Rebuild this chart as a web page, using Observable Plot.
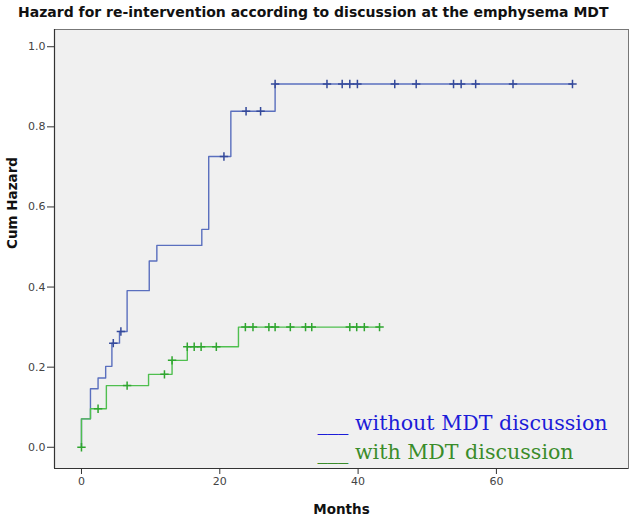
<!DOCTYPE html>
<html>
<head>
<meta charset="utf-8">
<script src="https://cdn.jsdelivr.net/npm/d3@7"></script>
<script src="https://cdn.jsdelivr.net/npm/@observablehq/plot@0.6"></script>
<style>
  html, body { margin: 0; padding: 0; background: #fff; }
  #wrap { position: relative; width: 636px; height: 518px; }
  #title { position: absolute; z-index: 2; left: 18px; top: 4px; font-family: "DejaVu Sans", sans-serif; font-weight: bold; font-size: 14px; color: #111; white-space: nowrap; }
</style>
</head>
<body>
<div id="wrap">
  <div id="title">Hazard for re-intervention according to discussion at the emphysema MDT</div>
</div>
<script>
// Step points of the cumulative hazard curves (months, cum hazard)
const blueTimes = [0, 0, 1.3, 2.4, 3.5, 4.4, 5.5, 6.6, 9.8, 10.9, 17.4, 18.4, 21.6, 28.0, 71.0];
const blueHaz   = [0, 0.071, 0.146, 0.173, 0.202, 0.26, 0.289, 0.391, 0.465, 0.504, 0.544, 0.726, 0.839, 0.907, 0.907];
const greenTimes = [0, 0, 1.3, 3.6, 9.7, 13.1, 15.3, 22.7, 43.1];
const greenHaz   = [0, 0.071, 0.096, 0.154, 0.182, 0.217, 0.251, 0.30, 0.30];

// Censored observations
const blueCensT = [4.6, 5.7, 20.6, 23.8, 25.9, 28.0, 35.5, 37.7, 38.8, 39.9, 45.3, 48.4, 53.8, 54.9, 57.0, 62.4, 71.0];
const blueCensH = [0.26, 0.289, 0.726, 0.839, 0.839, 0.907, 0.907, 0.907, 0.907, 0.907, 0.907, 0.907, 0.907, 0.907, 0.907, 0.907, 0.907];
const greenCensT = [0, 2.4, 6.6, 12.0, 13.1, 15.3, 16.3, 17.3, 19.5, 23.7, 24.8, 27.1, 28.0, 30.2, 32.4, 33.3, 38.8, 39.8, 40.9, 43.1];
const greenCensH = [0, 0.096, 0.154, 0.182, 0.217, 0.251, 0.251, 0.251, 0.251, 0.30, 0.30, 0.30, 0.30, 0.30, 0.30, 0.30, 0.30, 0.30, 0.30, 0.30];

const xTicks = [0, 20, 40, 60];
const yTicks = [0, 0.2, 0.4, 0.6, 0.8, 1.0];
const legendLabels = ["___ without MDT discussion", "___ with MDT discussion"];

const blue = blueTimes.map((t, i) => ({t, h: blueHaz[i]}));
const green = greenTimes.map((t, i) => ({t, h: greenHaz[i]}));
const blueC = blueCensT.map((t, i) => ({t, h: blueCensH[i]}));
const greenC = greenCensT.map((t, i) => ({t, h: greenCensH[i]}));

const plus = {
  draw(ctx, size) {
    const r = Math.sqrt(size / Math.PI);
    ctx.moveTo(-r, 0); ctx.lineTo(r, 0);
    ctx.moveTo(0, -r); ctx.lineTo(0, r);
  }
};

const chart = Plot.plot({
  width: 636,
  height: 518,
  marginLeft: 54,
  marginRight: 8,
  marginTop: 29,
  marginBottom: 50,
  style: { fontFamily: "DejaVu Sans, sans-serif", fontSize: "11px", color: "#444", background: "#fff" },
  x: { domain: [-3.9, 79.1], ticks: xTicks, tickSize: 6, tickPadding: 3, label: null },
  y: { domain: [-0.053, 1.043], ticks: yTicks, tickFormat: d3.format(".1f"), tickSize: 7, tickPadding: 2, label: null },
  marks: [
    Plot.frame({ fill: "#f0f0f0", stroke: "#777" }),
    Plot.axisX({ ticks: xTicks, tickSize: 6, tickPadding: 3, label: null, stroke: "#333" }),
    Plot.axisY({ ticks: yTicks, tickFormat: d3.format(".1f"), tickSize: 7, tickPadding: 2, label: null, stroke: "#333" }),
    Plot.ruleY([-0.053], { stroke: "#333", strokeWidth: 1.2 }),
    Plot.ruleX([-3.9], { stroke: "#333", strokeWidth: 1.2 }),
    Plot.line(blue, { x: "t", y: "h", curve: "step-after", stroke: "#5a6fbe", strokeWidth: 1.4 }),
    Plot.line(green, { x: "t", y: "h", curve: "step-after", stroke: "#4fbf4f", strokeWidth: 1.4 }),
    Plot.dot(blueC, { x: "t", y: "h", symbol: plus, r: 4.2, stroke: "#34499a", strokeWidth: 1.5, fill: "none" }),
    Plot.dot(greenC, { x: "t", y: "h", symbol: plus, r: 4.2, stroke: "#2fa52f", strokeWidth: 1.5, fill: "none" }),
    Plot.text([legendLabels[0]], { frameAnchor: "bottom-left", dx: 263, dy: -39, textAnchor: "start", fill: "#1c1cd8", fontSize: 20.6, fontFamily: "DejaVu Serif, serif" }),
    Plot.text([legendLabels[1]], { frameAnchor: "bottom-left", dx: 263, dy: -10, textAnchor: "start", fill: "#3a8c2a", fontSize: 20.6, fontFamily: "DejaVu Serif, serif" }),
    Plot.text(["Months"], { frameAnchor: "bottom", dy: 45, fill: "#111", fontWeight: "bold", fontSize: 13.5 }),
    Plot.text(["Cum Hazard"], { frameAnchor: "left", dx: -42, rotate: -90, fill: "#111", fontWeight: "bold", fontSize: 13.5 })
  ]
});
chart.style.position = "absolute";
chart.style.left = "0";
chart.style.top = "0";
chart.style.zIndex = "1";
document.getElementById("wrap").appendChild(chart);
</script>
</body>
</html>
